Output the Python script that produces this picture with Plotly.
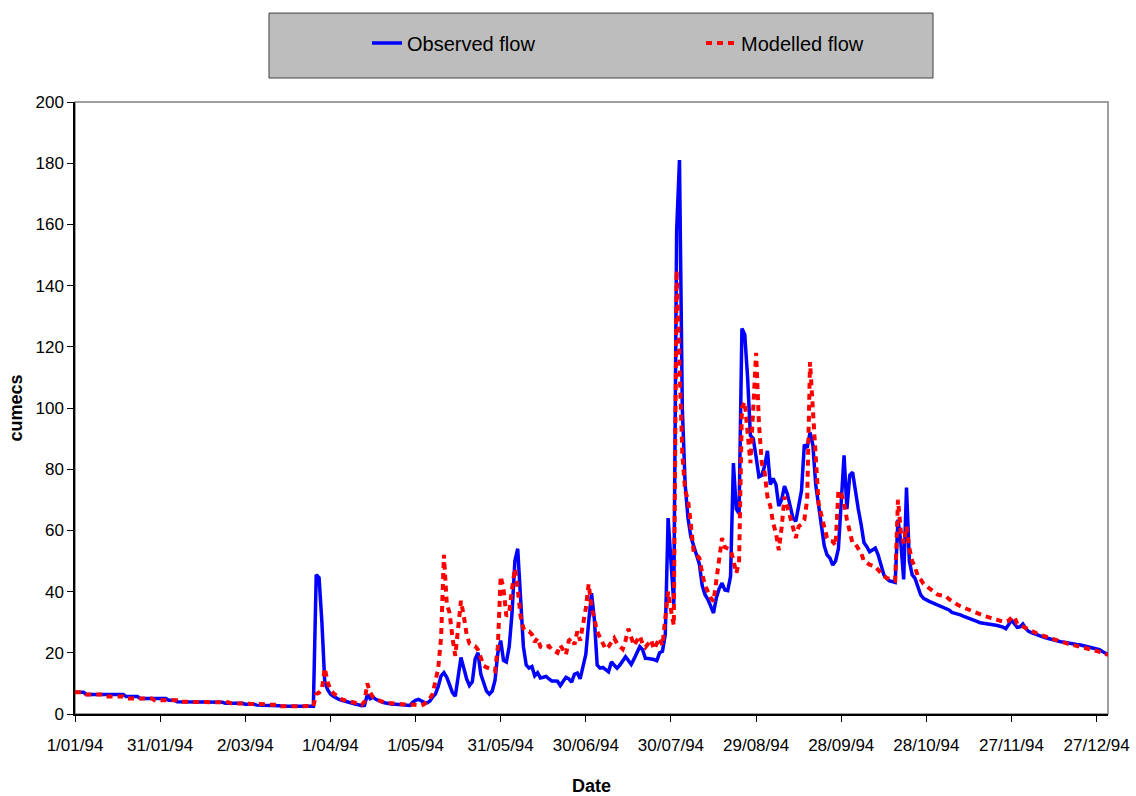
import pandas as pd
import plotly.graph_objects as go

# ---------------- data (daily values, 1 Jan 1994 - 31 Dec 1994) ----------------
start_date = "1994-01-01"

observed_flow = [
    7.1, 7.1, 7.1, 7.1, 6.4, 6.4, 6.4, 6.4, 6.4, 6.4,
    6.4, 6.4, 6.4, 6.4, 6.4, 6.4, 6.4, 6.4, 5.7, 5.7,
    5.7, 5.7, 5.7, 5.1, 5.1, 5.1, 5.1, 5.1, 5.1, 5.1,
    5.1, 5.1, 5.1, 4.5, 4.5, 4.5, 4.0, 4.0, 4.0, 4.0,
    4.0, 4.0, 4.0, 4.0, 4.0, 4.0, 4.0, 3.8, 3.8, 3.8,
    3.8, 3.8, 3.8, 3.5, 3.5, 3.5, 3.5, 3.5, 3.5, 3.5,
    3.2, 3.2, 3.2, 3.2, 2.9, 2.9, 2.9, 2.9, 2.7, 2.7,
    2.7, 2.7, 2.7, 2.5, 2.5, 2.5, 2.5, 2.5, 2.5, 2.5,
    2.5, 2.5, 2.5, 2.5, 2.5, 45.5, 44.5, 30.0, 10.5, 8.0,
    6.5, 5.8, 5.2, 4.8, 4.5, 4.2, 4.0, 3.8, 3.5, 3.2,
    3.0, 2.7, 2.8, 6.3, 5.0, 5.5, 4.8, 4.3, 4.0, 3.7,
    3.5, 3.3, 3.2, 3.2, 3.1, 3.1, 3.0, 3.0, 2.8, 3.8,
    4.5, 4.8, 4.2, 3.8, 3.6, 4.2, 5.5, 6.5, 9.0, 12.5,
    13.5, 12.0, 9.5, 7.0, 5.8, 12.0, 18.5, 15.0, 11.5, 9.3,
    10.5, 18.0, 20.0, 13.0, 10.0, 7.5, 6.5, 7.5, 11.0, 20.0,
    24.0, 17.5, 17.0, 22.0, 33.0, 50.0, 54.0, 40.0, 22.0, 16.0,
    15.0, 15.5, 12.5, 13.5, 11.8, 12.0, 12.3, 11.5, 10.8, 10.8,
    10.7, 9.3, 10.5, 12.0, 11.5, 10.4, 13.0, 13.4, 11.5, 16.0,
    19.5, 30.0, 39.5, 31.0, 16.0, 15.0, 15.2, 14.5, 13.8, 17.0,
    16.0, 15.0, 16.0, 17.5, 18.7, 17.5, 16.2, 18.0, 20.0, 22.0,
    21.0, 18.2, 18.1, 18.0, 17.8, 17.4, 20.0, 20.5, 26.0, 64.0,
    50.0, 36.0, 158.0, 181.0, 100.0, 75.0, 64.0, 58.0, 55.0, 52.0,
    49.0, 42.0, 39.0, 37.5, 35.0, 33.0, 38.0, 41.0, 42.8, 40.5,
    40.3, 45.0, 82.0, 67.0, 65.5, 126.0, 124.0, 110.0, 91.0, 90.0,
    84.0, 77.5, 78.0, 81.0, 86.0, 75.0, 77.0, 75.0, 68.0, 70.0,
    74.5, 72.0, 68.0, 64.0, 63.0, 68.0, 73.0, 88.0, 87.0, 92.0,
    88.0, 75.0, 68.0, 62.0, 55.0, 52.0, 51.0, 48.7, 50.0, 54.0,
    70.0, 84.5, 67.0, 78.0, 79.0, 72.0, 67.0, 62.0, 56.0, 54.7,
    53.0, 53.6, 54.2, 52.0, 49.0, 45.5, 44.3, 43.5, 43.3, 43.0,
    63.5, 56.0, 44.0, 74.0, 50.0, 45.5, 44.3, 41.5, 38.9, 37.8,
    37.2, 36.8, 36.4, 36.0, 35.5, 35.1, 34.8, 34.4, 34.0, 33.2,
    33.0, 32.6, 32.4, 32.0, 31.7, 31.2, 30.8, 30.5, 30.2, 29.8,
    29.7, 29.5, 29.4, 29.3, 29.1, 28.9, 28.7, 28.4, 27.9, 29.5,
    30.6, 29.5, 28.3, 28.5, 29.4, 28.0, 27.0, 26.6, 26.2, 25.8,
    25.5, 25.2, 24.9, 24.6, 24.3, 24.0, 23.9, 23.7, 23.5, 23.3,
    23.1, 23.0, 22.9, 22.7, 22.6, 22.4, 22.2, 22.0, 21.8, 21.5,
    21.2, 21.0, 20.4, 19.8, 19.5,
]

modelled_flow = [
    7.1, 7.1, 7.1, 7.1, 6.4, 6.4, 6.4, 6.4, 6.4, 6.4,
    6.4, 5.7, 5.7, 5.7, 5.7, 5.7, 5.7, 5.7, 5.1, 5.1,
    5.1, 5.1, 5.1, 5.1, 5.1, 5.1, 5.1, 5.1, 4.5, 4.5,
    4.5, 4.5, 4.5, 4.5, 4.5, 4.5, 4.5, 4.0, 4.0, 4.0,
    4.0, 4.0, 4.0, 4.0, 4.0, 4.0, 4.0, 4.0, 3.8, 3.8,
    3.8, 3.8, 3.8, 3.8, 3.8, 3.5, 3.5, 3.5, 3.5, 3.5,
    3.5, 3.2, 3.2, 3.2, 3.2, 3.2, 3.2, 3.2, 3.0, 3.0,
    3.0, 3.0, 2.5, 2.5, 2.5, 2.5, 2.5, 2.5, 2.5, 2.5,
    2.5, 2.5, 2.5, 2.5, 2.6, 6.5, 7.0, 8.0, 15.0, 10.5,
    8.0, 6.8, 6.0, 5.2, 4.8, 4.5, 4.2, 4.0, 3.8, 3.6,
    3.5, 3.0, 4.0, 10.0, 7.0, 5.5, 4.8, 4.4, 4.0, 3.8,
    3.6, 3.5, 3.5, 3.4, 3.4, 3.3, 3.3, 3.2, 3.0, 3.1,
    3.0, 3.2, 2.8, 3.2, 4.0, 5.0, 6.5, 11.0, 15.0, 25.0,
    52.0, 36.0, 33.0, 25.0, 19.0, 28.0, 37.0, 32.0, 26.0, 23.0,
    22.5, 22.2, 21.0, 18.3, 15.8, 15.2, 15.0, 14.5, 14.0, 22.0,
    45.0, 41.0, 32.0, 33.0, 41.0, 47.5, 41.0, 32.0, 28.0, 27.0,
    27.0, 26.0, 23.5, 24.8, 22.0, 21.6, 22.0, 22.2, 21.0, 20.5,
    20.0, 22.5, 21.0, 19.4, 24.0, 24.8, 22.7, 27.0, 24.0, 29.0,
    34.5, 42.5, 35.0, 31.0, 27.0, 25.0, 23.0, 21.2, 22.0, 23.5,
    24.8, 23.0, 22.0, 21.2, 24.0, 27.9, 25.0, 22.4, 24.0, 25.5,
    23.0, 21.8, 23.0, 24.2, 21.2, 23.0, 24.8, 22.4, 31.0, 40.0,
    34.0, 29.0, 145.0, 111.0, 85.0, 73.0, 70.0, 62.0, 53.0, 52.0,
    51.0, 46.0, 42.0, 40.0, 38.0, 36.8, 44.0, 51.5, 57.5, 54.5,
    54.0, 53.7, 50.4, 46.0, 49.5, 100.0, 102.0, 90.0, 82.0, 100.0,
    118.0, 95.0, 82.0, 79.0, 71.0, 68.0, 62.4, 59.1, 53.5, 61.0,
    71.0, 67.8, 64.0, 60.0, 57.5, 61.3, 62.0, 63.5, 70.0, 115.0,
    98.0, 80.0, 69.0, 65.0, 61.0, 57.5, 56.5, 56.4, 55.0, 73.0,
    72.0, 69.0, 63.5, 59.1, 55.8, 55.5, 54.0, 52.6, 50.0, 49.3,
    48.8, 48.5, 48.2, 47.1, 46.0, 45.0, 44.5, 44.0, 43.8, 43.6,
    70.0, 59.6, 55.8, 61.3, 54.2, 50.0, 48.0, 45.0, 44.0, 42.5,
    41.8, 41.0, 40.2, 39.5, 39.0, 38.8, 38.6, 38.4, 37.5, 36.8,
    36.2, 35.7, 35.2, 34.8, 34.3, 33.9, 33.5, 33.2, 32.8, 32.5,
    32.2, 31.9, 31.6, 31.3, 31.0, 30.6, 30.3, 30.2, 30.2, 30.5,
    31.5, 31.8, 29.5, 29.0, 28.5, 28.0, 27.5, 27.1, 26.7, 26.3,
    25.9, 25.6, 25.3, 25.0, 24.6, 24.2, 23.8, 23.6, 23.4, 23.2,
    22.9, 22.7, 22.5, 22.3, 22.1, 21.9, 21.6, 21.4, 21.1, 20.9,
    20.6, 20.3, 20.0, 19.6, 19.3,
]

tick_dates = ["1994-01-01", "1994-01-31", "1994-03-02", "1994-04-01", "1994-05-01",
              "1994-05-31", "1994-06-30", "1994-07-30", "1994-08-29", "1994-09-28",
              "1994-10-28", "1994-11-27", "1994-12-27"]
tick_labels = ["1/01/94", "31/01/94", "2/03/94", "1/04/94", "1/05/94", "31/05/94",
               "30/06/94", "30/07/94", "29/08/94", "28/09/94", "28/10/94",
               "27/11/94", "27/12/94"]
y_ticks = [0, 20, 40, 60, 80, 100, 120, 140, 160, 180, 200]

dates_obs = pd.date_range(start_date, periods=len(observed_flow), freq="D")
dates_mod = pd.date_range(start_date, periods=len(modelled_flow), freq="D")

FONT = "Liberation Sans, Arial, sans-serif"

fig = go.Figure()
fig.add_trace(go.Scatter(
    x=dates_obs, y=observed_flow, mode="lines", name="Observed flow",
    line=dict(color="#0000FF", width=3.5),
))
fig.add_trace(go.Scatter(
    x=dates_mod, y=modelled_flow, mode="lines", name="Modelled flow",
    line=dict(color="#FF0000", width=4, dash="6px,5px"),
))

fig.update_layout(
    width=1136, height=796,
    margin=dict(l=75, r=28, t=102, b=82),
    paper_bgcolor="white", plot_bgcolor="white",
    font=dict(family=FONT, size=17, color="black"),
    showlegend=True,
    legend=dict(
        orientation="h", x=0.2827, xanchor="left", y=1.0963, yanchor="middle",
        bgcolor="rgba(0,0,0,0)", borderwidth=0,
        font=dict(family=FONT, size=20, color="black"),
        entrywidth=289, entrywidthmode="pixels", itemwidth=30,
    ),
    shapes=[
        dict(type="rect", xref="paper", yref="paper", x0=0.1878, x1=0.8306,
             y0=1.0392, y1=1.1453, fillcolor="#BDBDBD",
             line=dict(color="#404040", width=1), layer="below"),
        dict(type="rect", xref="paper", yref="paper", x0=0, x1=1, y0=0, y1=1,
             line=dict(color="#808080", width=1.5), layer="below"),
    ],
)

fig.update_xaxes(
    range=["1994-01-01", "1994-12-31"], automargin=False,
    tickmode="array", tickvals=tick_dates, ticktext=tick_labels,
    ticks="outside", ticklen=6, tickwidth=1.2, tickcolor="black",
    showline=True, linecolor="black", linewidth=1.5,
    showgrid=False, zeroline=False,
    tickfont=dict(family=FONT, size=17),
    ticklabelstandoff=9,
    title=dict(text="<b>Date</b>", font=dict(family=FONT, size=18), standoff=30),
)
fig.update_yaxes(
    range=[0, 200], tickmode="array", tickvals=y_ticks, automargin=False,
    ticks="outside", ticklen=6, tickwidth=1.2, tickcolor="black",
    showline=True, linecolor="black", linewidth=1.5,
    showgrid=False, zeroline=False,
    tickfont=dict(family=FONT, size=17),
    ticklabelstandoff=0,
    title=dict(text="<b>cumecs</b>", font=dict(family=FONT, size=18), standoff=8),
)

fig.write_html("out.html")
